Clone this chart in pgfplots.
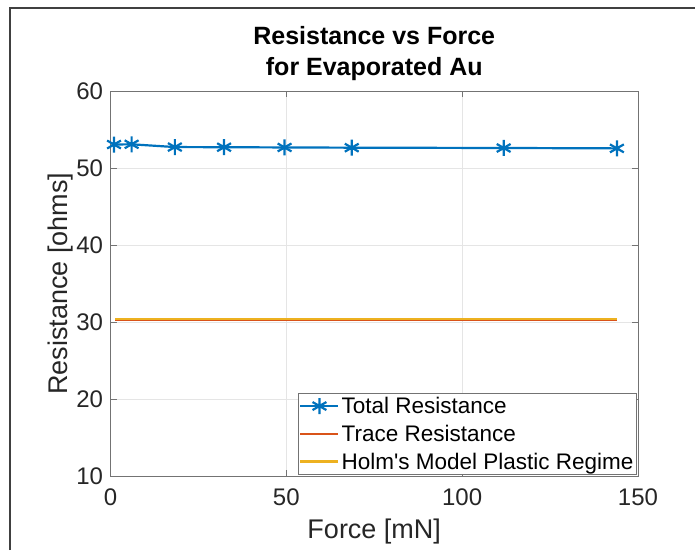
\documentclass[border=0pt]{standalone}
\usepackage{pgfplots}
\pgfplotsset{compat=1.18}
\usepackage{fontspec}
\setmainfont{Liberation Sans}
\definecolor{mblue}{rgb}{0,0.447,0.741}
\definecolor{morange}{rgb}{0.85,0.325,0.098}
\definecolor{myellow}{rgb}{0.929,0.694,0.125}
\begin{document}
\begin{tikzpicture}[x=1pt,y=1pt]
\useasboundingbox (0,0) rectangle (695,550);
\begin{axis}[
  at={(110.5pt,74pt)}, anchor=south west,
  scale only axis, width=527.5pt, height=385pt,
  xmin=0, xmax=150, ymin=10, ymax=60,
  xtick={0,50,100,150}, ytick={10,20,30,40,50,60},
  grid=major, major grid style={black!10, line width=0.8pt},
  axis line style={black!55, line width=0.9pt},
  tick style={black!55, line width=0.9pt},
  tick align=inside, major tick length=6pt,
  /pgf/number format/assume math mode=true,
  ticklabel style={font=\fontsize{24}{28}\selectfont, text=black!85},
  xticklabel style={yshift=-9pt},
  yticklabel style={xshift=-4pt},
  xlabel={Force [mN]}, ylabel={Resistance [ohms]},
  label style={font=\fontsize{27}{31}\selectfont, text=black!85},
  xlabel style={at={(axis description cs:0.5,0)}, anchor=center, yshift=-56pt},
  ylabel style={at={(axis description cs:0,0.5)}, anchor=center, yshift=50pt},
  title={Resistance vs Force\\for Evaporated Au},
  title style={font=\bfseries\fontsize{25}{31}\selectfont, align=center, at={(axis description cs:0.5,1)}, anchor=center, yshift=31pt},
  legend style={at={(rel axis cs:1,0)}, anchor=south east, xshift=-1pt, yshift=1pt,
    draw=black!55, line width=0.9pt, fill=white,
    font=\fontsize{22.5}{27}\selectfont, row sep=6pt, inner xsep=1pt, inner ysep=2pt,
    nodes={inner sep=2pt}},
  legend cell align=left,
  legend image code/.code={\draw[#1, mark repeat=2, mark phase=2] plot coordinates {(0pt,0pt) (19pt,0pt) (38pt,0pt)};},
]
\addplot[mblue, line width=2.2pt, mark=asterisk, mark size=8pt, mark options={line width=2.2pt}]
  coordinates {(1,53.05) (6,53.08) (18.3,52.72) (32.3,52.7) (49.5,52.67) (68.6,52.64) (111.8,52.6) (144,52.55)};
\addlegendentry{Total Resistance}
\addplot[morange, line width=2.4pt] coordinates {(1.3,30.3) (144,30.3)};
\addlegendentry{Trace Resistance}
\addplot[myellow, line width=2.4pt] coordinates {(1.3,30.38) (144,30.38)};
\addlegendentry{Holm\textquotesingle s Model Plastic Regime}
\end{axis}
\draw[black!75, line width=1.4pt] (10,0) -- (10,542) -- (695,542);
\end{tikzpicture}
\end{document}
